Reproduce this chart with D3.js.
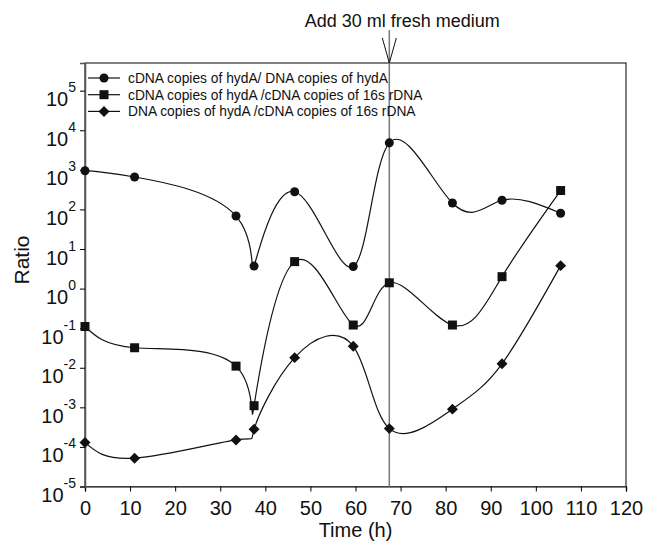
<!DOCTYPE html>
<html>
<head>
<meta charset="utf-8">
<script src="https://cdn.jsdelivr.net/npm/d3@7"></script>
<style>
  body { margin: 0; background: #fff; }
  svg { font-family: "Liberation Sans", Arial, sans-serif; }
</style>
</head>
<body>
<svg id="chart" width="646" height="542"></svg>
<script>
// sampling times (h)
const times = [0, 11, 33.5, 37.5, 46.5, 59.5, 67.5, 81.5, 92.5, 105.5];
// ratios
const cdnaToDna = [950, 660, 68, 3.7, 280, 3.6, 4800, 145, 170, 80];
const cdnaTo16s = [0.11, 0.032, 0.011, 0.0011, 4.8, 0.12, 1.4, 0.12, 2.0, 300];
const dnaTo16s = [1.3e-4, 5.2e-5, 1.5e-4, 2.8e-4, 0.018, 0.035, 2.9e-4, 9e-4, 0.0126, 3.8];
const seriesNames = [
    "cDNA copies of hydA/ DNA copies of hydA",
    "cDNA copies of hydA /cDNA copies of 16s rDNA",
    "DNA copies of hydA /cDNA copies of 16s rDNA"
];
const markerTypes = ["circle", "square", "diamond"];
const xTicks = d3.range(0, 121, 10);
const yExponents = d3.range(-5, 6);
const feedTime = 67.5;
const feedLabel = "Add 30 ml fresh medium";

const svg = d3.select("#chart");
const plotLeft = 85, plotRight = 626, plotTop = 63, plotBottom = 486.5;

const x = d3.scaleLinear().domain([0, 120]).range([plotLeft, plotRight]);
const y = d3.scaleLog().domain([1e-5, 5e5]).range([plotBottom, plotTop]);

// frame
svg.append("rect")
    .attr("x", plotLeft).attr("y", plotTop)
    .attr("width", plotRight - plotLeft).attr("height", plotBottom - plotTop)
    .attr("fill", "none").attr("stroke", "#000").attr("stroke-width", 1);

// x axis
const xAxis = svg.append("g")
    .attr("transform", "translate(0," + plotBottom + ")")
    .call(d3.axisBottom(x).tickValues(xTicks).tickSize(5).tickPadding(9).tickFormat(d3.format("d")));
xAxis.select(".domain").attr("stroke", "#555").attr("stroke-width", 1.5);
xAxis.selectAll("text").attr("font-size", 20).attr("fill", "#111")
    .attr("font-family", "'Liberation Sans', Arial, sans-serif");

// y axis with superscript labels
const yAxis = svg.append("g")
    .attr("transform", "translate(" + plotLeft + ",0)")
    .call(d3.axisLeft(y).tickValues(yExponents.map(e => Math.pow(10, e))).tickSize(5).tickFormat(""));
yAxis.select(".domain").attr("stroke", "#555").attr("stroke-width", 1.5);
yAxis.selectAll(".tick").each(function (d) {
    const e = Math.round(Math.log10(d));
    const t = d3.select(this).append("text")
        .attr("x", -9).attr("y", 15)
        .attr("text-anchor", "end")
        .attr("fill", "#111")
        .attr("font-family", "'Liberation Sans', Arial, sans-serif");
    t.append("tspan").attr("font-size", 20).text("10");
    t.append("tspan").attr("font-size", 14).attr("dy", -14).text(e);
});

// axis titles
svg.append("text")
    .attr("x", (plotLeft + plotRight) / 2).attr("y", 537)
    .attr("text-anchor", "middle").attr("font-size", 20).attr("fill", "#111")
    .text("Time (h)");
svg.append("text")
    .attr("transform", "translate(29,260) rotate(-90)")
    .attr("text-anchor", "middle").attr("font-size", 21).attr("fill", "#111")
    .text("Ratio");

// feeding marker line and arrow
svg.append("line")
    .attr("x1", x(feedTime)).attr("x2", x(feedTime))
    .attr("y1", 30).attr("y2", plotBottom)
    .attr("stroke", "#777").attr("stroke-width", 1.5);
svg.append("path")
    .attr("d", "M" + (x(feedTime) - 7) + ",38 L" + x(feedTime) + "," + plotTop + " L" + (x(feedTime) + 7) + ",38")
    .attr("fill", "none").attr("stroke", "#111").attr("stroke-width", 1);
svg.append("text")
    .attr("x", x(feedTime) + 13).attr("y", 27)
    .attr("text-anchor", "middle").attr("font-size", 18).attr("fill", "#111")
    .text(feedLabel);

const symbols = {
    circle: d3.symbol().type(d3.symbolCircle).size(64),
    square: d3.symbol().type(d3.symbolSquare).size(81),
    diamond: d3.symbol().type(d3.symbolSquare).size(60)
};

function drawMarker(g, type, px, py) {
    g.append("path")
        .attr("d", symbols[type]())
        .attr("transform", "translate(" + px + "," + py + ")" + (type === "diamond" ? " rotate(45)" : ""))
        .attr("fill", "#111");
}

const line = d3.line()
    .x(d => x(d[0]))
    .y(d => y(d[1]))
    .curve(d3.curveNatural);

[cdnaToDna, cdnaTo16s, dnaTo16s].forEach(function (vals, i) {
    const pts = times.map((t, j) => [t, vals[j]]);
    const g = svg.append("g");
    g.append("path")
        .datum(pts)
        .attr("d", line)
        .attr("fill", "none").attr("stroke", "#111").attr("stroke-width", 1.2);
    pts.forEach(p => drawMarker(g, markerTypes[i], x(p[0]), y(p[1])));
});

// legend
const legend = svg.append("g");
seriesNames.forEach(function (name, i) {
    const ly = 78 + i * 16.7;
    legend.append("line")
        .attr("x1", 88).attr("x2", 120).attr("y1", ly).attr("y2", ly)
        .attr("stroke", "#111").attr("stroke-width", 1.2);
    drawMarker(legend, markerTypes[i], 104, ly);
    legend.append("text")
        .attr("x", 128).attr("y", ly + 4.8)
        .attr("font-size", 13.8).attr("fill", "#111")
        .text(name);
});
</script>
</body>
</html>
